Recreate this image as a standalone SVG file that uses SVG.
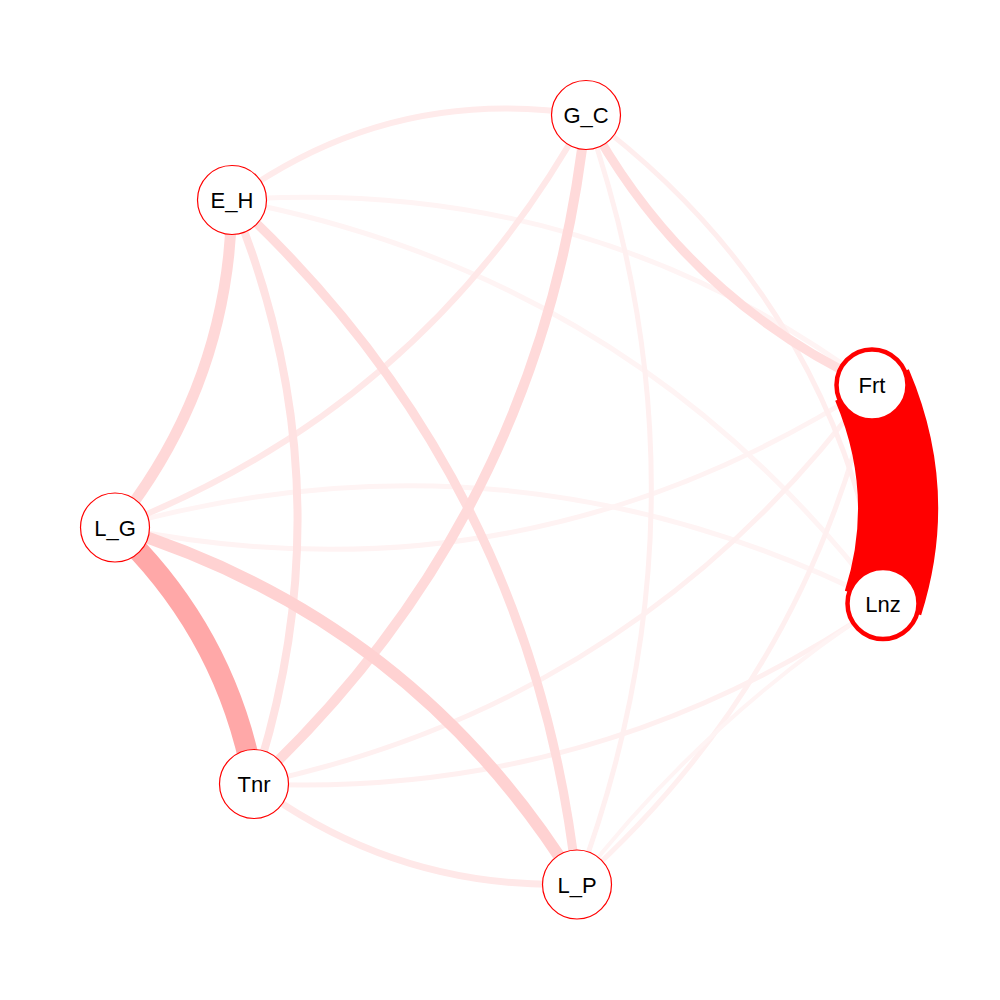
<svg xmlns="http://www.w3.org/2000/svg" width="1000" height="1000" viewBox="0 0 1000 1000">
<style>
.e{fill:none;stroke-linecap:butt}
.n circle{fill:#FFFFFF;stroke:#FF0000;stroke-width:1.2}
.n.b circle{stroke-width:4.5}
.n text{font-family:"Liberation Sans",Arial,sans-serif;font-size:22px;fill:#000000;text-anchor:middle}
</style>
<rect width="1000" height="1000" fill="#FFFFFF"/>
<g id="edges">
<path class="e" d="M232,200 Q587,174 872,385" stroke="#FFF4F4" stroke-width="5"/>
<path class="e" d="M232,200 Q635,276 883,603" stroke="#FFF4F4" stroke-width="5"/>
<path class="e" d="M115,527 Q522,610 872,385" stroke="#FFF3F3" stroke-width="5"/>
<path class="e" d="M115,527 Q514,416 883,603" stroke="#FFF4F4" stroke-width="5"/>
<path class="e" d="M254,784 Q639,703 872,385" stroke="#FFF0F0" stroke-width="5"/>
<path class="e" d="M254,784 Q599,799 883,603" stroke="#FFF0F0" stroke-width="5"/>
<path class="e" d="M577,884 Q804,682 872,385" stroke="#FFF0F0" stroke-width="5"/>
<path class="e" d="M577,884 Q706,717 883,603" stroke="#FFF4F4" stroke-width="4"/>
<path class="e" d="M586,115 Q834,299 883,603" stroke="#FFEEEE" stroke-width="5"/>
<path class="e" d="M586,115 Q721,501 577,884" stroke="#FFF0F0" stroke-width="5"/>
<path class="e" d="M586,115 Q391,84 232,200" stroke="#FFEBEB" stroke-width="6"/>
<path class="e" d="M586,115 Q425,407 115,527" stroke="#FFE8E8" stroke-width="6"/>
<path class="e" d="M254,784 Q398,891 577,884" stroke="#FFE8E8" stroke-width="7"/>
<path class="e" d="M232,200 Q351,488 254,784" stroke="#FFE2E2" stroke-width="8"/>
<path class="e" d="M586,115 Q684,298 872,385" stroke="#FFDDDD" stroke-width="9"/>
<path class="e" d="M232,200 Q533,477 577,884" stroke="#FFDCDC" stroke-width="9"/>
<path class="e" d="M586,115 Q545,512 254,784" stroke="#FFDADA" stroke-width="10"/>
<path class="e" d="M232,200 Q230,384 115,527" stroke="#FFD8D8" stroke-width="11"/>
<path class="e" d="M115,527 Q413,618 577,884" stroke="#FFD2D2" stroke-width="12"/>
<path class="e" d="M115,527 Q227,633 254,784" stroke="#FFA8A8" stroke-width="21"/>
<path class="e" d="M872,385 Q918,493 883,603" stroke="#FF0000" stroke-width="80"/>
</g>
<g id="node-GC" class="n"><circle cx="586" cy="115" r="34.5"/><text x="586" y="123">G_C</text></g>
<g id="node-EH" class="n"><circle cx="232" cy="200" r="34.5"/><text x="232" y="208">E_H</text></g>
<g id="node-LG" class="n"><circle cx="115" cy="527.5" r="34.5"/><text x="115" y="535.5">L_G</text></g>
<g id="node-Tnr" class="n"><circle cx="254" cy="784" r="34.5"/><text x="254" y="792">Tnr</text></g>
<g id="node-LP" class="n"><circle cx="577" cy="884.5" r="34.5"/><text x="577" y="892.5">L_P</text></g>
<g id="node-Frt" class="n b"><circle cx="872" cy="385" r="35.5"/><text x="872" y="393">Frt</text></g>
<g id="node-Lnz" class="n b"><circle cx="883" cy="603.5" r="35.5"/><text x="883" y="611.5">Lnz</text></g>
</svg>
